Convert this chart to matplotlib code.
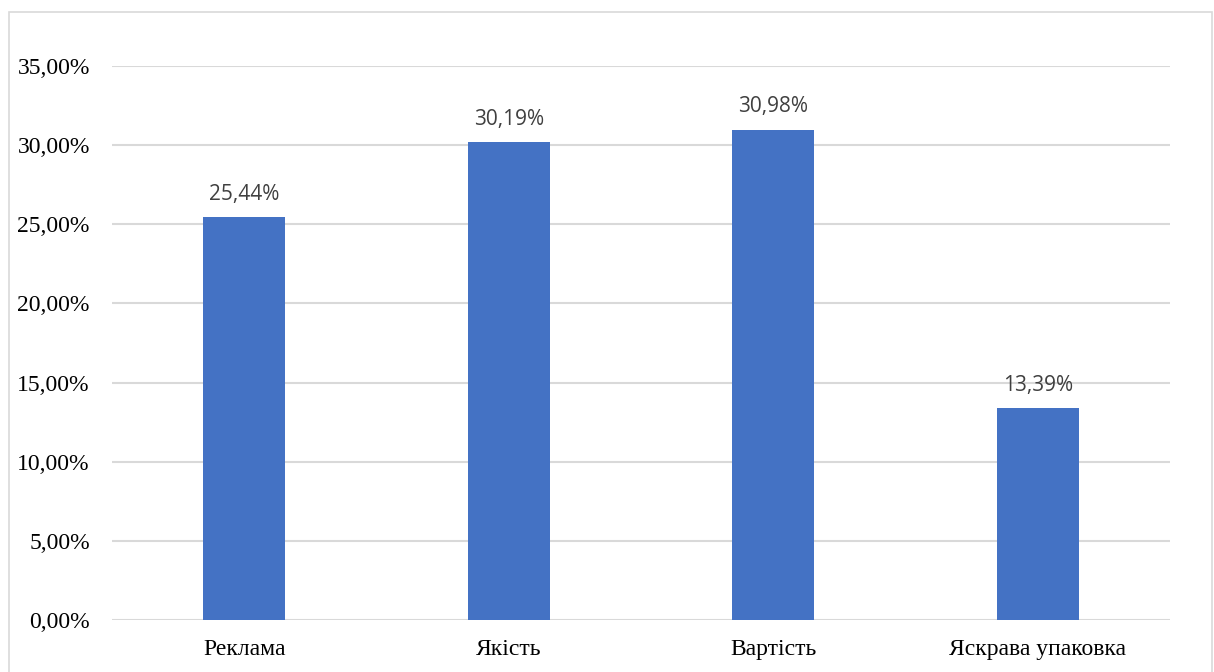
import matplotlib.pyplot as plt
import matplotlib.patches as patches
from matplotlib.ticker import FuncFormatter, MultipleLocator

categories = ['Реклама', 'Якість', 'Вартість', 'Яскрава упаковка']
shares = [0.2544, 0.3019, 0.3098, 0.1339]


def pct(v, pos=None):
    return '{:.2f}%'.format(v * 100).replace('.', ',')


fig = plt.figure(figsize=(12.14, 6.72), dpi=100)
ax = fig.add_axes([112 / 1214, 52 / 672, 1058 / 1214, 554 / 672])

x = range(len(categories))
bars = ax.bar(x, shares, width=0.31, color='#4472C4', zorder=3)

for b, v in zip(bars, shares):
    ax.annotate(pct(v), (b.get_x() + b.get_width() / 2, v),
                xytext=(0, 9), textcoords='offset points',
                ha='center', va='bottom', fontsize=15,
                family='Open Sans', color='#404040')

ax.set_xlim(-0.5, len(categories) - 0.5)
ax.set_ylim(0, 0.35)
ax.yaxis.set_major_locator(MultipleLocator(0.05))
ax.yaxis.set_major_formatter(FuncFormatter(pct))
ax.set_xticks(list(x))
ax.set_xticklabels(categories)
ax.grid(axis='y', color='#d9d9d9', linewidth=1.5, zorder=0)
ax.set_axisbelow(True)
for s in ax.spines.values():
    s.set_visible(False)
ax.tick_params(length=0)
ax.tick_params(axis='y', pad=16)
ax.tick_params(axis='x', pad=14)
for lab in ax.get_xticklabels() + ax.get_yticklabels():
    lab.set_family('Liberation Serif')
    lab.set_fontsize(17)
    lab.set_color('black')

fig.patches.append(patches.Rectangle((9 / 1214, -0.02), 1203 / 1214, 0.02 + 660 / 672,
                                     transform=fig.transFigure, fill=False,
                                     edgecolor='#d9d9d9', linewidth=1.2))

fig.savefig('out.png', dpi=100)
